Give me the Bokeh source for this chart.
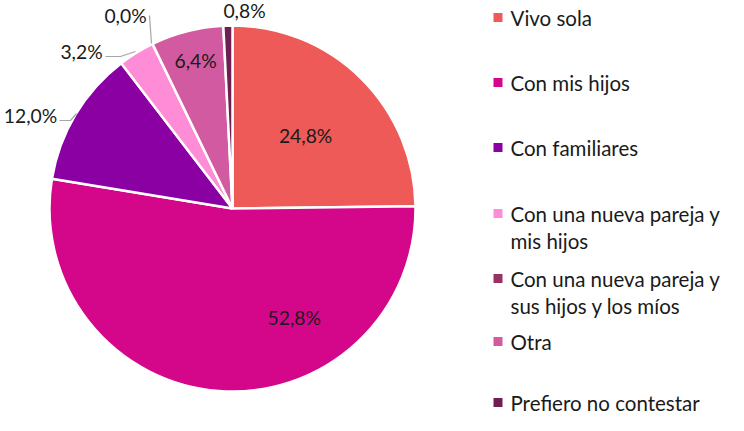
import math
import textwrap
from bokeh.plotting import figure
from bokeh.models import Range1d, ColumnDataSource
from bokeh.core.properties import value
from bokeh.embed import file_html
from bokeh.resources import INLINE

# ---- data ----
categories = [
    "Vivo sola",
    "Con mis hijos",
    "Con familiares",
    "Con una nueva pareja y mis hijos",
    "Con una nueva pareja y sus hijos y los míos",
    "Otra",
    "Prefiero no contestar",
]
percentages = [24.8, 52.8, 12.0, 3.2, 0.0, 6.4, 0.8]
colors = ["#EE5A57", "#D4068A", "#8B00A3", "#FF8CD6", "#963264", "#D25AA0", "#6E1E50"]

# ---- layout (pixel positions; reference coords -> figure coords) ----
W, H = 728, 415
def fx(x): return x - 8
def fy(y): return H + 17 - y

CX, CY, R = fx(240), fy(225), 183
FONT = "Lato"

p = figure(width=W, height=H, output_backend="svg", toolbar_location=None,
           x_range=Range1d(0, W), y_range=Range1d(0, H),
           x_axis_location=None, y_axis_location=None, min_border=0)
p.grid.visible = False
p.outline_line_color = None
p.background_fill_color = "white"
p.border_fill_color = "white"

# wedges (zero-valued slices have no visible wedge)
total = sum(percentages)
st, en, col = [], [], []
cum = 0.0
for v, c in zip(percentages, colors):
    if v > 0:
        st.append(math.pi / 2 - 2 * math.pi * (cum + v) / total)
        en.append(math.pi / 2 - 2 * math.pi * cum / total)
        col.append(c)
    cum += v

src = ColumnDataSource(dict(start=st, end=en, color=col))
p.wedge(x=CX, y=CY, radius=R, start_angle="start", end_angle="end",
        fill_color="color", line_color="white", line_width=2.5, source=src)

# data labels: (angle clockwise from top in degrees, radius fraction) per slice
label_pos = [(45, 0.565), (150.4, 0.683), None, None, None, (346, 0.833), None]
outside = {2: (fx(38), fy(132)), 3: (fx(89), fy(68)), 4: (fx(133), fy(32)), 6: (fx(252), fy(27))}
lx, ly, lt = [], [], []
for i, v in enumerate(percentages):
    txt = f"{v:.1f}".replace(".", ",") + "%"
    if label_pos[i] is not None:
        ang, rf = label_pos[i]
        a = math.radians(ang)
        lx.append(CX + rf * R * math.sin(a))
        ly.append(CY + rf * R * math.cos(a))
    else:
        x, y = outside[i]
        lx.append(x)
        ly.append(y)
    lt.append(txt)
p.text(x=lx, y=ly, text=lt, text_font=value(FONT), text_font_size="19.3px",
       text_color="#1a1a1a", text_align="center", text_baseline="middle")

# leader lines
leaders = [
    [(67, 137), (78, 137), (84, 130)],
    [(113, 73), (128, 73), (143, 68)],
    [(157, 32), (159, 60)],
]
p.multi_line(xs=[[fx(a) for a, b in ln] for ln in leaders],
             ys=[[fy(b) for a, b in ln] for ln in leaders],
             line_color="#A6A6A6", line_width=1.2)

# legend
legend_y = [34, 99, 164, 230, 295, 358, 419]
line_gap = 27.5
p.rect(x=[fx(505.5)] * len(categories), y=[fy(y) for y in legend_y], width=9, height=9,
       fill_color=colors, line_color=None)
tx, ty, tt = [], [], []
for cat, y in zip(categories, legend_y):
    for j, ln in enumerate(textwrap.wrap(cat, 22)):
        tx.append(fx(518))
        ty.append(fy(y + j * line_gap))
        tt.append(ln)
p.text(x=tx, y=ty, text=tt, text_font=value(FONT), text_font_size="20.5px",
       text_color="#1a1a1a", text_align="left", text_baseline="middle")

open("out.html", "w").write(file_html(p, INLINE))
